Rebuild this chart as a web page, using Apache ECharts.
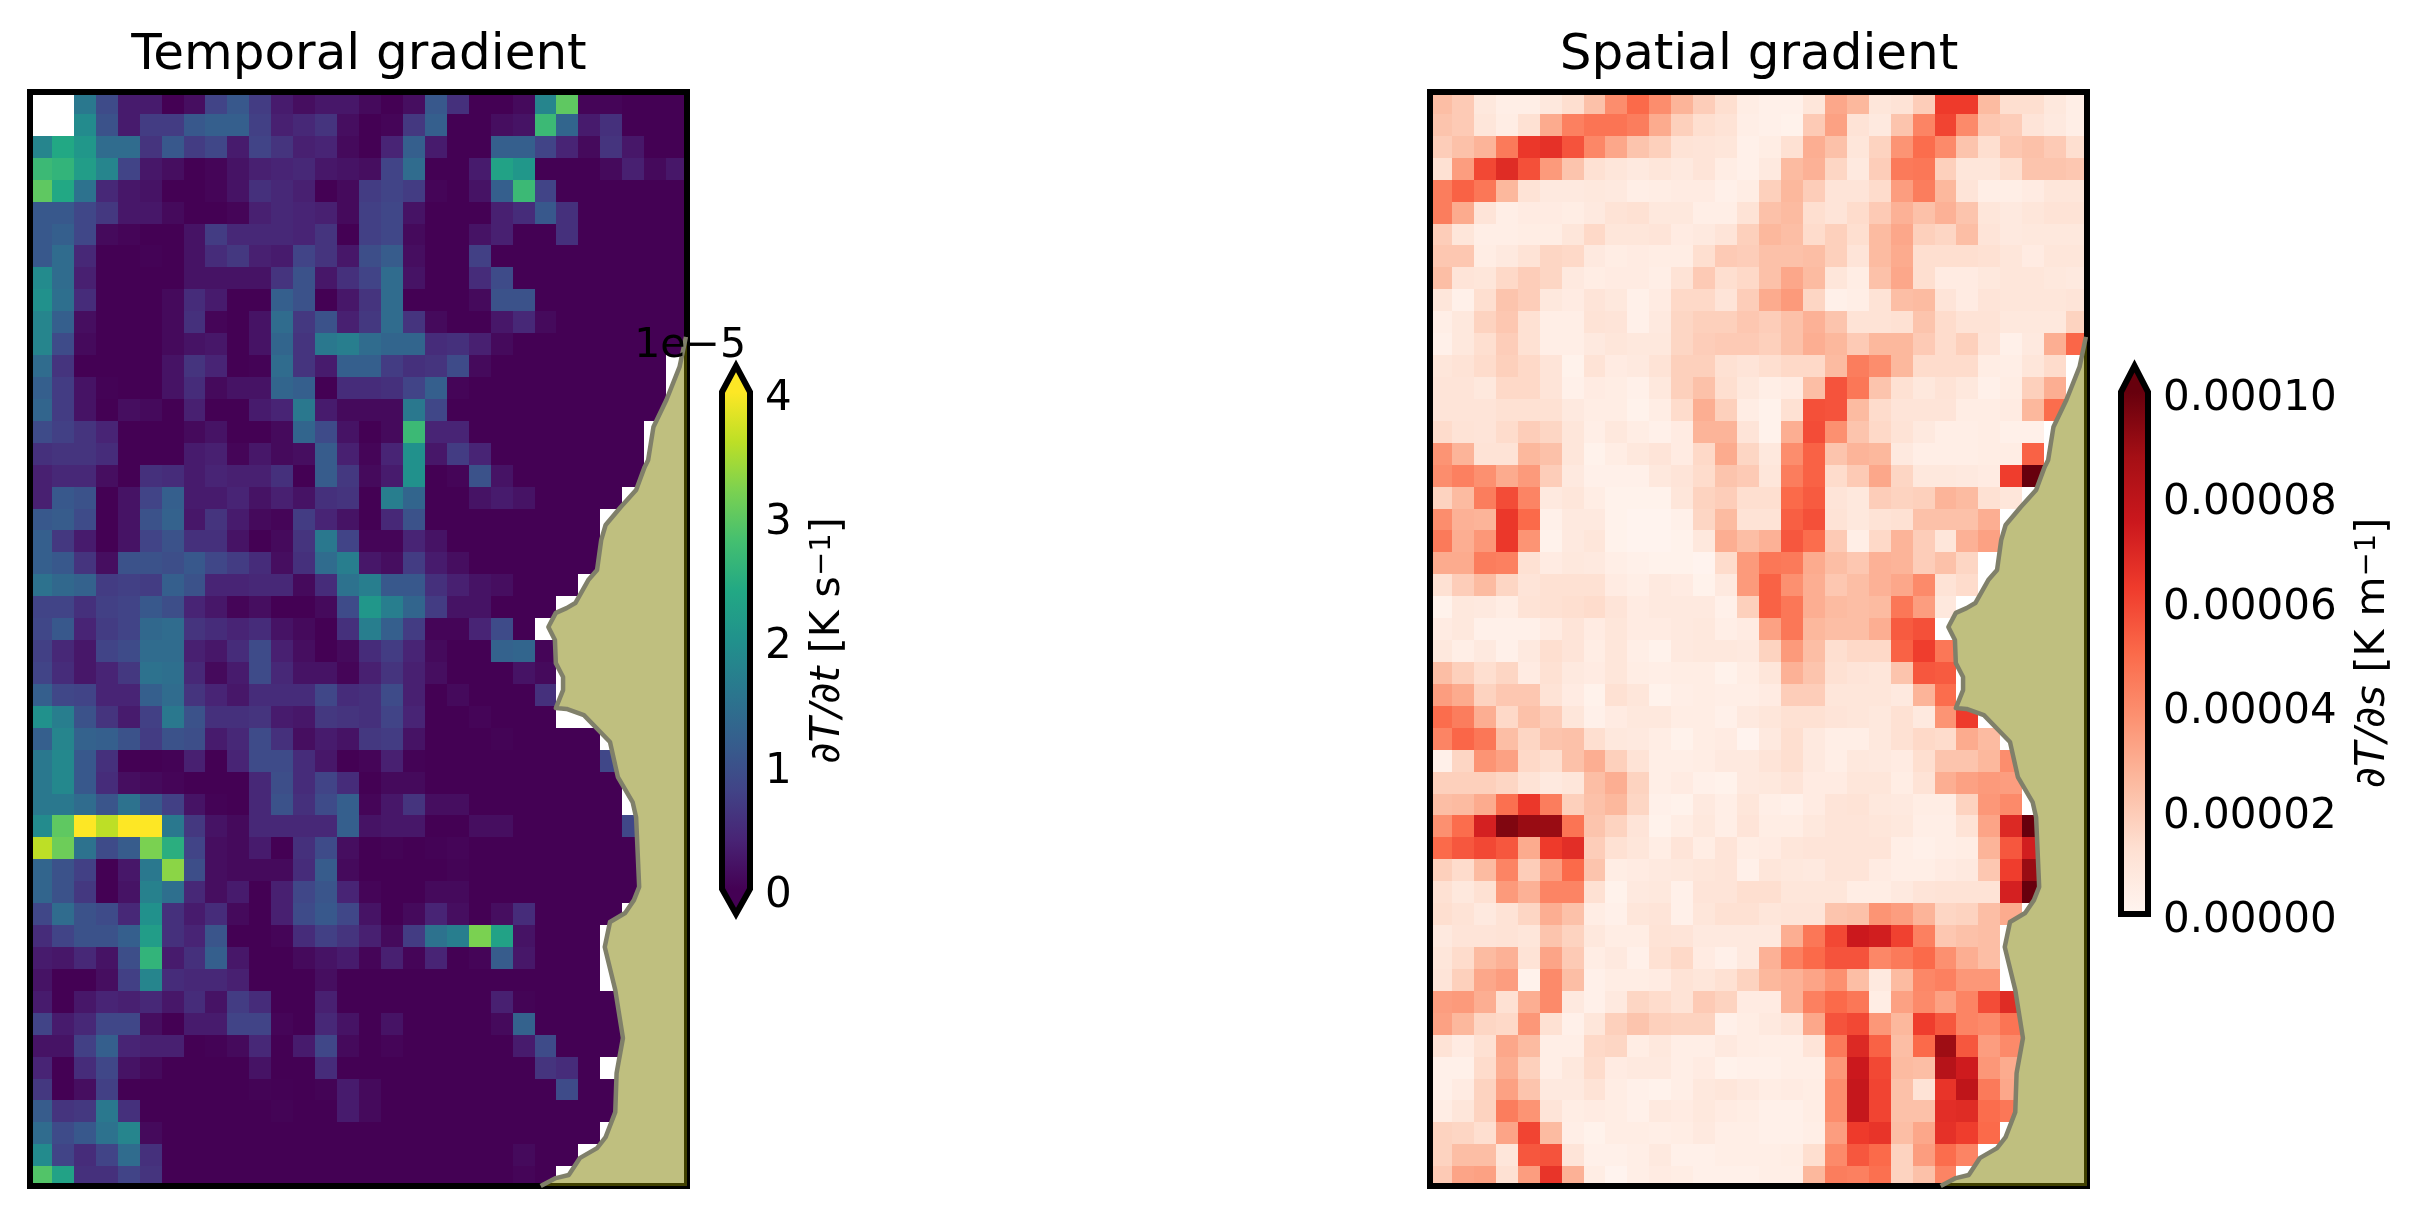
<!DOCTYPE html>
<html>
<head>
<meta charset="utf-8">
<title>Temporal and spatial gradient</title>
<script src="https://cdn.jsdelivr.net/npm/echarts@6/dist/echarts.min.js"></script>
<style>
  html, body { margin: 0; background: #fff; }
  #chart { width: 2427px; height: 1217px; }
</style>
</head>
<body>
<div id="chart"></div>
<script>
const n = null

// dT/dt, units of 1e-5 K/s, rows from the top, columns from the left
const temporalRows = [
  [n,n,1.6,.9,.3,.3,0,.15,.8,1.1,.7,.3,.15,.25,.25,.1,0,.15,1.1,.55,0,0,.1,1.8,3,.05,.05,0,0,0],
  [n,n,1.9,1,.3,.7,.7,1.1,1.2,1.2,.75,.35,.45,.6,.15,0,.05,.65,1.2,0,0,.15,.2,2.7,1.3,.3,.55,0,0,0],
  [1.8,2.4,2.1,1.4,1.4,.6,1.1,.7,.85,.3,.8,.6,.35,.4,.1,0,.4,1.2,.3,0,0,1.2,1.2,.8,.4,.1,.6,.25,0,0],
  [2.7,2.6,2.2,1.8,.8,.25,.15,0,.05,.2,.35,.4,.45,.25,.2,.15,.8,1.4,0,0,.3,2.3,2.1,0,0,0,.1,.35,.1,.25],
  [3,2.4,1.5,.45,.25,.2,0,0,.05,.2,.55,.45,.35,0,.1,.7,.8,.7,.05,0,.2,1.2,2.7,.8,0,0,0,0,0,0],
  [1.1,1.1,.85,.65,.25,.25,.1,0,0,.05,.35,.45,.4,.35,.1,.75,.85,.2,0,0,0,.35,.5,1.1,.55,0,0,0,0,0],
  [1.1,1.2,.85,.1,.05,0,0,.2,.7,.45,.45,.45,.4,.6,0,.75,.85,.1,0,0,.2,.35,0,0,.55,0,0,0,0,0],
  [1.1,1.4,.45,0,0,.02,0,.2,.5,.65,.35,.3,.8,.6,.25,.95,1.15,.15,0,0,.75,0,0,0,0,0,0,0,0,0],
  [1.9,1.4,.35,0,0,0,0,.2,.2,.2,.2,.6,1,.25,.55,.8,1.4,.2,0,0,.5,.9,0,0,0,0,0,0,0,0],
  [2,1.45,.5,0,0,0,.1,.5,.3,0,0,1.2,1,0,.25,.6,1.4,0,0,0,.1,1,1,0,0,0,0,0,0,0],
  [1.8,1.2,.15,0,0,0,.1,.55,.05,0,.2,1.4,.65,1,.35,.65,1.4,.6,.1,0,0,.25,.45,.1,0,0,0,0,0,0],
  [1.8,.9,.1,0,0,0,.1,.2,.25,0,.2,1.3,.6,1.6,1.7,1.4,1.3,1.3,.5,.55,.35,.1,0,0,0,0,0,0,0,0],
  [1.4,.6,0,0,0,0,.2,.6,.4,0,.02,1.4,.6,.3,1.2,1.2,.7,.55,.6,.9,.1,0,0,0,0,0,0,0,0],
  [1.2,.7,.2,.02,0,0,.2,.5,.1,.2,.2,1.3,1.2,0,.5,.5,.55,.8,1.2,.05,0,0,0,0,0,0,0,0,0],
  [1.3,.7,.2,0,.15,.1,0,.35,0,0,.3,.4,1.6,.3,.1,.1,.1,1.6,.85,0,0,0,0,0,0,0,0,0,0],
  [.9,.75,.6,.4,0,0,0,.1,.2,0,0,.1,1.3,.9,.2,0,.1,2.7,.4,.4,0,0,0,0,0,0,0,0],
  [.55,.6,.6,.5,0,0,0,.3,.35,.05,.25,.1,.15,1.15,.35,.05,.4,2,.25,.7,.4,0,0,0,0,0,0,0],
  [.35,.45,.45,.15,0,.55,.5,.3,.4,.35,.35,.55,0,1.15,.65,.1,.3,2,0,.05,1,.2,0,0,0,0,0,0],
  [.35,1.1,1,0,.2,.8,1.2,.3,.3,.4,.2,.35,.2,.55,.6,0,1.7,1.3,0,0,.2,.3,.2,0,0,0,0],
  [1.1,1.15,.9,0,.2,1,1.25,.25,.6,.3,.1,.05,.7,.4,.2,0,.45,1,0,0,0,0,0,0,0,0],
  [1.2,.65,.3,0,.2,.8,1,.55,.55,.2,0,.1,.6,1.6,.8,.05,.05,.4,.2,0,0,0,0,0,0,0],
  [1.2,1.1,.6,.15,1,1,.95,1.1,.85,.7,.5,.15,.55,1.4,1.7,.25,.15,.7,.3,.15,0,0,0,0,0,0],
  [1.5,1.35,1.25,.7,.75,.7,1.2,1,.4,.4,.45,.45,.1,.5,1.5,1.7,1.1,1.1,.55,.35,.2,.15,0,0,0],
  [.8,.8,.55,.75,.8,1.1,.95,.4,.25,.05,.15,0,0,.1,.9,2.1,1.7,1.3,.7,.2,.2,0,0,0],
  [.85,1.1,.4,.7,.8,1.35,1.4,.6,.5,.4,.5,.2,.1,0,.55,1.7,1.2,.7,.05,.05,.4,.9,0],
  [.75,.45,.25,.8,.9,1.4,1.4,.35,.25,.5,.9,.35,.15,0,.1,.5,.7,.4,.1,0,0,1.25,1.3,.05],
  [.8,.5,.25,.4,.65,1.5,1.45,.45,.1,.3,.9,.45,.2,.2,.05,.35,.6,.35,.15,0,0,0,.2,.1],
  [1.2,.85,.8,.4,.4,1.2,1.4,.6,.4,.25,.5,.5,.5,.85,.5,.55,.9,.35,0,.1,0,0,0,.55],
  [2,1.7,1,.6,.3,.75,1.6,1,.55,.55,.6,.3,.25,.65,.6,.55,.8,.4,0,0,.05,0,0,0],
  [1.2,1.8,1.25,1.2,1,.7,1,.95,.3,.45,.9,.55,.15,.3,.2,.65,.7,.2,0,0,0,.03,0,0,0,0],
  [1.6,1.85,1.1,.55,0,0,.02,.35,0,.4,.9,.9,.5,.25,0,.05,.35,.02,0,0,0,0,0,0,0,0,.85],
  [1.6,1.85,1.1,.5,.15,.1,.05,0,0,0,.45,.95,.5,.8,.5,0,.1,.1,0,0,0,0,0,0,0,0,0],
  [1.6,1.6,1.4,1.05,1.5,1.1,.75,.2,.02,0,.45,1,.55,.9,1.2,.05,.25,.6,.15,.15,0,0,0,0,0,0,0],
  [1.9,3,4,3.6,4,4,1.6,.65,.2,.1,.45,.45,.45,.45,1.2,.2,.25,.25,0,0,.15,.15,0,0,0,0,0,.85],
  [3.6,3.1,1.5,.9,1.15,3.2,2.5,.8,.15,.1,.3,0,.55,.9,.15,0,.03,0,.02,.05,0,0,0,0,0,0,0,0],
  [1.3,1,.75,0,.25,1.6,3.3,.95,.15,.1,.1,.1,.5,1.15,.1,0,0,0,0,.03,0,0,0,0,0,0,0,0],
  [1.3,1,.65,0,.2,1.75,1.45,.45,.15,.3,0,.35,.85,1.05,.4,.05,0,0,.1,.1,0,0,0,0,0,0,0,0],
  [.85,1.4,1,.9,.45,2,.55,.3,.5,.1,0,.35,.9,1.1,.85,.2,0,.1,.4,.15,0,.15,.5,0,0,0,0],
  [.5,.8,1,1,1.2,2.2,.55,.4,1.05,0,0,.05,.5,.75,.6,.35,.1,.7,1.5,1.7,3.2,2.3,.2,0,0,0],
  [.3,.25,.45,.2,.95,2.6,.3,.55,1.2,.25,0,0,.1,.2,.3,.05,.35,.05,.4,0,.05,1.15,.25,0,0,0],
  [.2,0,0,.15,.75,1.8,.5,.45,.45,.35,0,0,0,.15,0,0,0,0,0,0,0,0,0,0,0,0],
  [.3,0,.25,.4,.35,.45,.25,.5,.2,.7,.5,0,0,.35,0,0,0,0,0,0,0,.35,.03,0,0,0,0,0],
  [.8,.3,.45,.85,.85,.15,0,.3,.3,.8,.8,.05,0,.45,.2,0,.2,0,0,0,0,.1,1.25,0,0,0,0,0],
  [.2,.2,.75,1.2,.4,.35,.35,0,.02,.1,.45,0,.3,.85,.1,0,.05,0,0,0,0,0,.3,.9,0,0,0,0],
  [.4,0,.5,.85,.2,.1,0,0,0,0,.2,0,0,.5,0,0,0,0,0,0,0,0,0,.6,.5,0],
  [.65,0,.15,.75,0,0,0,0,0,0,.03,.01,0,.03,.3,.1,0,0,0,0,0,0,0,0,.9,0,0],
  [1.15,.6,.65,1.6,.55,0,0,0,0,0,0,.03,0,0,.3,.1,0,0,0,0,0,0,0,0,0,0,0],
  [1.4,.9,1.1,1.5,1.8,.1,0,0,0,0,0,0,0,0,0,0,0,0,0,0,0,0,0,0,0,0],
  [1.9,.8,.5,.8,1.4,.55,0,0,0,0,0,0,0,0,0,0,0,0,0,0,0,0,.1,0,0],
  [2.9,2.3,.55,.55,.8,.6,0,0,0,0,0,0,0,0,0,0,0,0,0,0,0,0,.05,0],
]

// dT/ds, units of 1e-5 K/m
const spatialRows = [
  [2.4,2,.8,.4,.4,.8,1.3,2.3,3.9,5,3.9,2.7,1.9,1.3,.5,.3,.3,.9,3.1,2.6,.9,1.1,1.9,6.3,6.3,2.5,1.3,1.3,.8,.4],
  [2.2,2,.9,.5,1.2,3,4.3,4.7,4.7,4.4,3,1.8,1.3,1.1,.4,.3,.2,2,3.3,1.1,.7,2.2,4.2,6,4,2.1,1.9,1,.7,.4],
  [1.9,2.3,2.7,4.5,6.4,6.6,5.6,4.1,3.1,2.2,1.8,1.1,1,.9,.3,.5,1.2,2.9,2.3,.9,1.7,3.7,4.9,4,2.2,1.3,2.1,2.3,2,1.3],
  [1.2,3.4,5.9,6.8,5.7,3.5,2.2,1.2,.9,.7,.9,.7,1,.5,.3,.7,2.5,2.8,1.6,.7,1.9,4.5,4.6,1.8,.9,.9,1.3,2.2,2.2,2.1],
  [4.4,5.2,4.6,2.6,1.1,.7,.7,.8,.7,.4,.5,.6,.6,.3,.5,1.8,2.6,1.9,1,1,1.4,3.4,4.4,2.6,1,.4,.4,.6,.9,.9],
  [4.4,3,1,.4,.6,.6,.5,.7,1.1,1.2,.8,.8,.4,.4,1.1,2.3,2.5,1.3,1,1.4,2,2.8,2.3,2.8,2.2,.9,.7,.9,1.1,1.1],
  [1.9,.9,.4,.4,.5,.5,.9,1.5,.9,.9,1,.6,.7,1,1.8,2.6,2.4,1.4,1.8,1.3,2.5,3.1,1.8,1.6,2.4,1,.7,.8,.8,.8],
  [2.1,2.1,.5,.7,1.1,1.6,1.5,.7,.5,.6,.5,.5,1.3,2,1.9,2.3,2.3,2.4,1.8,1,2.5,3,1.3,1.3,1.3,1.2,.9,.6,.9,.9],
  [2.4,1,.9,1.5,1.9,1.6,.7,.5,.6,.6,.4,1.1,2,1.3,1.5,2.3,3.1,2.5,.9,.5,2.3,3.1,1.3,.6,.6,.8,.9,.9,.8,.7],
  [.9,.3,1.3,2.2,1.9,.8,.6,1,.8,.3,.6,1.5,1.5,1,1.9,3,3.5,1.6,.3,.4,1.1,2.4,2.5,1,.6,1,.9,.9,.9,1],
  [.4,.8,1.7,2.1,1.2,.4,.4,1.1,1,.3,.7,1.6,1.8,1.8,2.1,1.9,2.3,2.8,2.2,1.1,1.1,1.2,2.2,1.4,1.1,1.1,.8,.8,.8,1.7],
  [.3,.8,1.3,1.9,1.2,.4,.4,.7,.9,.8,.8,1.6,1.9,2,2,1.8,2.3,2.9,2.6,2,2.6,2.6,2,1.4,1.8,1,.3,.7,2.9,5.1],
  [.9,1.1,1.4,1.8,1.5,1,.2,1.1,.6,.7,1.1,1.8,1.8,1.2,1,1.3,1.5,1.5,2.5,4.4,3.9,2.6,1.4,1.4,1.4,.5,.4,.9,1.4],
  [1,1,.8,1.5,1.5,1,.3,.6,.5,.3,.8,1.8,2.3,1.3,.8,.4,.6,2.4,5.6,4.6,2.2,1.2,.8,1.1,.8,.3,.5,1.8,2.9],
  [1,1,1,1.2,1.2,1.2,.7,.5,.5,.2,.5,1.4,2.9,1.8,.5,.2,1.2,5.7,5.6,2.5,1.4,1,1,1,.5,.5,.6,2.6,4.9],
  [1.4,1.1,1,1.4,1.9,1.6,.9,.4,.8,.5,.3,.6,2.7,2.7,1,.2,2.9,5.8,3.8,2.2,1.5,1.1,.7,.4,.4,.5,.3,.3],
  [3.7,2.7,1.1,1.1,2.6,2.3,.9,.2,.5,.8,1,.6,1.5,3,1.6,.8,3.9,5.2,2.2,2.7,2.6,.7,.4,.4,.4,.5,.5,5.2],
  [3.9,4.3,3.8,3,3.5,1.9,.7,.3,.3,.3,.8,1,1.4,2.2,2,.9,4.4,5.2,1.4,2,3.1,1.6,.8,.8,.7,.6,6.2,10],
  [1.7,2.5,4.4,5.8,4.2,.7,.9,.5,.2,.2,.2,.9,1.7,1.9,1.3,1.3,5,5.4,1,.8,1.9,1.7,1.8,2.7,2.5,1.2,.9],
  [3.9,2.8,2.7,6.4,5,.3,.7,.7,.2,.1,.1,.3,1.6,2.5,1.1,1.1,5.3,5.7,1.1,.8,1.1,1.2,2.3,2.3,2.3,2.9],
  [4.5,2.9,3.6,6.4,3.7,.2,.7,.9,.2,.1,.1,.2,.8,2.9,2.4,2.8,5.5,4.9,2,.4,1.5,2.7,1.9,.9,2.8,3.3],
  [3,3,4.4,4.3,1.2,.6,.8,.7,.4,.3,.2,.2,.1,1.4,3.5,4.6,4.5,3,2.4,2.1,2.8,2.7,1.9,2.3,1.6],
  [1.2,1.9,2.5,1.6,1,1.2,1.2,1.2,.6,.4,.7,.6,.2,.7,3.5,5.2,3.8,2.9,2.1,2.4,2.8,3.1,4,1.1,1.4],
  [.2,.8,.7,.5,1.1,1.2,1.3,1.4,1,.6,.7,.7,.7,.3,1.8,5.2,4.6,2.9,2.5,2.4,2.5,4.6,3.4,.8],
  [.6,.8,.3,.3,.3,.6,1,.6,.9,.6,.6,.7,.8,.4,.6,3.3,4.6,2.6,2.4,2.4,2.9,5.4,5.7],
  [.8,.4,.7,.3,.7,1.3,1,.5,.9,.4,.2,.7,.8,.8,.7,1.7,3.5,2.4,1.3,1.5,1.5,5.2,6.2,4.6],
  [2.4,1.8,1.3,1.6,.6,1.2,.7,.6,.9,.5,.4,.5,.5,.2,.5,.9,2.8,2.2,1.2,1,.9,2.2,5.5,5.4],
  [3.4,3,1.7,2.1,2.1,1.1,.6,.2,1.2,.9,.2,.4,.5,.4,.4,.6,1.9,1.9,.9,.9,.9,.7,2.7,4.9],
  [4.9,4.4,2.9,1.5,2.3,1.9,.9,.3,.6,.8,.8,.5,.5,.3,.7,.9,1.2,1.2,1,.9,.8,1.2,.7,3.7,6.3],
  [4.2,5.1,4.6,2.4,1.6,2.2,2.3,1.3,.8,.7,.5,.2,.5,.6,.1,.7,1.3,.7,.4,.4,.8,1.2,1.5,1.4,3,2.5],
  [.3,1.6,3.7,3.3,1.5,1.3,2.3,2.9,1.8,1.1,.4,.4,.5,.7,.7,1,1.3,.7,.4,.8,.7,.6,1.3,2.2,2.2,2.6,3.9],
  [1.8,1.8,1.8,1.6,1.1,.7,.9,2.4,2.9,1.7,.4,.6,.3,.2,.7,.8,1,.6,.6,.9,.9,.5,1.1,2.9,3.3,3.5,3.4],
  [2.4,2.5,3,4.8,6.4,4.4,1.8,2.3,2.6,1.6,.3,.2,.7,.4,.9,.4,.3,.6,1,1.1,.8,.7,.5,.5,1.7,3.6,4],
  [3.8,4.9,7.2,9.5,9,9,4.7,2.2,1.7,1,.2,.5,.8,.4,1,.5,.5,.8,1,1,.9,.8,.4,.4,1.1,3.2,6.9,10],
  [5,5.5,5.9,5.5,3,6.3,6.7,1.9,1.2,.9,.5,1,.5,1,.5,.6,.9,1,1,1,1,.4,.3,.4,.5,2.7,5.5,7.3],
  [1.8,1.4,2.5,4.2,1.9,3.4,5,2.2,.5,.6,.7,.8,.9,1,.3,.9,.8,.7,1,1,.6,.4,.4,.6,.7,2.1,6.2,9],
  [1.2,.8,1.2,3.5,2.8,4.2,4.2,1.2,.2,.7,.8,.3,1,1,1.3,1.3,.9,.9,.9,.5,.5,.7,1,1.1,1.1,1.1,7.2,10],
  [1.3,1.1,.7,1.1,1.6,2.9,2.3,.5,.3,.9,1,.3,.9,1.2,1.2,.9,1,1,2.2,2.3,3.7,3.4,2.7,1.6,1.7,2.4,3],
  [.7,1,1,1.1,.9,2.2,1.7,.8,.5,.5,1.1,1,.7,.7,.7,.7,2.9,4.6,5.9,7.5,7.3,6.1,4.3,2.1,2.3,2.4],
  [.9,1.4,2.5,2.8,1.1,3.2,2,.5,.7,.3,1.2,1.5,.6,.3,.7,2.8,4.3,5,5.6,5.6,4.1,4.5,5,3.8,2.9,2.4],
  [1,1.8,3.1,3.4,.2,4,2.4,.3,.5,.5,.6,1.1,.9,1.2,1.7,2.6,2.8,3.2,3.8,2.4,.7,2.5,4.1,4.3,3.6,3.6],
  [3.4,3.5,2.9,1.2,2.9,4,.7,.3,.7,1.6,1.4,1.1,2,1.7,.6,.6,2.8,4.3,5,4.6,.5,3.3,4,3.3,4.2,5.8,6.8],
  [3.3,2.6,1.6,1.5,3.6,1.2,.3,.9,1.8,2.2,1.8,1.7,1.7,.3,.5,.7,1,3.1,5.6,5.9,3.6,2.6,6.2,5.5,4.2,4,4.7],
  [1.1,.6,1.2,3.1,2.5,.4,.4,1.5,1.6,.5,.8,.4,.4,.7,.5,.4,.4,1,4.5,6.9,5.2,2.4,5,8.9,5.5,3.4,4],
  [.3,.3,1.4,2.9,1.8,.4,.8,1.4,.6,.7,.7,.4,.6,.2,.3,.3,.4,.4,3.6,7.5,5.9,2.5,2.4,8.2,7.4,3.6,3],
  [.3,.6,1.7,3.3,2.2,.7,.7,1.1,.5,.3,.2,.4,.8,.9,.7,.5,.6,.5,3.9,7.7,6,2.3,1.1,6.5,7.9,4.5,3.1],
  [.5,.9,1.7,4.4,3.7,1,.5,.6,.5,.3,.7,.6,.8,.6,.5,.3,.3,.5,3.9,7.7,6,2.3,2.3,6.7,6.8,4.9,4.6],
  [1.7,1.6,1.3,3.2,6,2.5,.4,.2,.5,.5,.4,.5,.7,.4,.4,.3,.3,.4,3.4,6.3,6.5,2.4,3.1,6.6,6.2,5],
  [1.7,2.4,2.4,.9,5.5,5.6,1,.3,.3,.4,.7,.3,.3,.4,.4,.4,.5,1.3,4,5.5,5,1.7,3.4,4.9,4.2],
  [2,3.2,3.3,1.2,3.4,6.5,2.8,.5,.1,.4,.6,.5,.3,.3,.3,.4,.4,2.6,4.4,4.3,4.8,1.7,2.3,4.2],
]

// coastline in column / row units, closed along the right and bottom of the map
const coastCols = [29.4,29.11,28.51,27.92,27.68,27.52,27.13,26.43,25.74,25.54,25.35,24.95,24.36,23.96,23.47,23.13,23.43,23.47,23.8,23.8,23.47,23.96,24.75,25.94,26.3,26.97,27.13,27.27,27.03,26.63,25.94,25.7,26.18,26.53,26.24,26.18,25.74,25.35,24.56,24.06,23.47,22.78,29.45,29.45]
const coastRows = [10.67,12.04,13.55,14.78,16.28,16.6,17.65,18.43,19.25,19.93,21.3,21.76,22.81,23.04,23.26,23.9,24.5,25.55,26.18,26.78,27.6,27.64,27.92,29.15,30.75,31.89,32.58,35.76,36.36,36.95,37.36,38.5,40.46,42.65,44.25,46.03,47.17,47.67,48.13,48.9,49.04,49.4,49.4,10.67]

const temporalTicks = ['0', '1', '2', '3', '4']
const spatialTicks = ['0.00000', '0.00002', '0.00004', '0.00006', '0.00008', '0.00010']

const viridis = ['#440154','#482475','#414487','#355f8d','#2a788e','#21918c','#22a884','#44bf70','#7ad151','#bddf26','#fde725']
const reds = ['#fff5f0','#fee0d2','#fcbba1','#fc9272','#fb6a4a','#ef3b2c','#cb181d','#a50f15','#67000d']

const FONT = 'DejaVu Sans'
const X_RANGE = [-0.5, 29.45]
const Y_RANGE = [-0.5, 49.4]

function toCells(rows) {
  const cells = []
  rows.forEach((row, r) => {
    row.forEach((v, c) => {
      if (v !== null) cells.push([c, r, v])
    })
  })
  return cells
}

function renderCell(params, api) {
  const c = api.value(0)
  const r = api.value(1)
  const a = api.coord([c - 0.5, r - 0.5])
  const b = api.coord([c + 0.5, r + 0.5])
  const x = Math.round(a[0])
  const y = Math.round(a[1])
  return {
    type: 'rect',
    shape: { x, y, width: Math.round(b[0]) - x, height: Math.round(b[1]) - y },
    style: { fill: api.visual('color') },
  }
}

// white land mask over the cells, then the frame, then the half transparent land which tints the frame
function renderOverlay(params, api) {
  const tl = api.coord([X_RANGE[0], Y_RANGE[0]])
  const br = api.coord([X_RANGE[1], Y_RANGE[1]])
  const points = coastCols.map((c, i) => api.coord([c, coastRows[i]]))
  return {
    type: 'group',
    children: [
      {
        type: 'polygon',
        shape: { points },
        style: { fill: '#fff' },
      },
      {
        type: 'rect',
        shape: { x: tl[0], y: tl[1], width: br[0] - tl[0], height: br[1] - tl[1] },
        style: { fill: 'none', stroke: '#000', lineWidth: 6 },
      },
      {
        type: 'polygon',
        shape: { points },
        style: { fill: '#808000', opacity: 0.5 },
      },
      {
        type: 'polyline',
        shape: { points: points.slice(0, -2) },
        style: { fill: 'none', stroke: '#80806a', lineWidth: 4.5, lineJoin: 'round' },
      },
    ],
  }
}

function colorbarRenderer(colors, vMax, capTop, capBottom) {
  return function (params, api) {
    const p = (x, v) => api.coord([x, v])
    const stops = colors.map((color, i) => ({ offset: i / (colors.length - 1), color }))
    const bl = p(0, 0)
    const tr = p(1, vMax)
    const children = [
      {
        type: 'rect',
        shape: { x: bl[0], y: tr[1], width: tr[0] - bl[0], height: bl[1] - tr[1] },
        style: { fill: new echarts.graphic.LinearGradient(0, 1, 0, 0, stops) },
      },
      {
        type: 'polygon',
        shape: { points: [p(0, vMax), p(0.5, capTop), p(1, vMax)] },
        style: { fill: colors[colors.length - 1] },
      },
    ]
    const outline = [p(0, vMax), p(0.5, capTop), p(1, vMax), p(1, 0)]
    if (capBottom !== null) {
      children.push({
        type: 'polygon',
        shape: { points: [p(0, 0), p(0.5, capBottom), p(1, 0)] },
        style: { fill: colors[0] },
      })
      outline.push(p(0.5, capBottom))
    }
    outline.push(p(0, 0))
    children.push({
      type: 'polygon',
      shape: { points: outline },
      style: { fill: 'none', stroke: '#000', lineWidth: 6, lineJoin: 'miter', miterLimit: 10 },
    })
    return { type: 'group', children }
  }
}

const hiddenAxis = (extra) => ({ type: 'value', show: false, ...extra })

const barAxis = (gridIndex, max, interval, ticks, name, nameGap) => ({
  type: 'value',
  gridIndex,
  position: 'right',
  min: 0,
  max,
  interval,
  splitLine: { show: false },
  axisLine: { show: false },
  axisTick: { show: false },
  axisLabel: {
    color: '#000',
    fontFamily: FONT,
    fontSize: 42,
    margin: 15,
    verticalAlign: 'top',
    lineHeight: 14,
    formatter: (v) => ticks[Math.round(v / interval)],
  },
  name,
  nameLocation: 'middle',
  nameRotate: 90,
  nameGap,
  nameTextStyle: {
    color: '#000',
    fontFamily: FONT,
    fontSize: 41,
    rich: {
      i: { fontFamily: FONT, fontSize: 41, fontStyle: 'italic', color: '#000' },
      s: { fontFamily: FONT, fontSize: 29, color: '#000', verticalAlign: 'top' },
    },
  },
})

const chart = echarts.init(document.getElementById('chart'))

chart.setOption({
  animation: false,
  backgroundColor: '#fff',
  textStyle: { fontFamily: FONT },
  title: [
    { text: 'Temporal gradient', left: 354, top: 26, textAlign: 'center', textStyle: { fontFamily: FONT, fontSize: 50, fontWeight: 'normal', color: '#000' } },
    { text: 'Spatial gradient', left: 1754, top: 26, textAlign: 'center', textStyle: { fontFamily: FONT, fontSize: 50, fontWeight: 'normal', color: '#000' } },
  ],
  grid: [
    { left: 30, top: 92, width: 657, height: 1094 },
    { left: 1430, top: 92, width: 657, height: 1094 },
    { left: 722, top: 392, width: 28, height: 497 },
    { left: 2121, top: 392, width: 27, height: 522 },
  ],
  xAxis: [
    hiddenAxis({ gridIndex: 0, min: X_RANGE[0], max: X_RANGE[1] }),
    hiddenAxis({ gridIndex: 1, min: X_RANGE[0], max: X_RANGE[1] }),
    hiddenAxis({ gridIndex: 2, min: 0, max: 1 }),
    hiddenAxis({ gridIndex: 3, min: 0, max: 1 }),
  ],
  yAxis: [
    hiddenAxis({ gridIndex: 0, min: Y_RANGE[0], max: Y_RANGE[1], inverse: true }),
    hiddenAxis({ gridIndex: 1, min: Y_RANGE[0], max: Y_RANGE[1], inverse: true }),
    barAxis(2, 4, 1, temporalTicks, '{i|∂T/∂t} [K s{s|−1}]', 58),
    barAxis(3, 10, 2, spatialTicks, '{i|∂T/∂s} [K m{s|−1}]', 205),
  ],
  visualMap: [
    { type: 'continuous', show: false, seriesIndex: 0, dimension: 2, min: 0, max: 4, inRange: { color: viridis } },
    { type: 'continuous', show: false, seriesIndex: 1, dimension: 2, min: 0, max: 10, inRange: { color: reds } },
  ],
  series: [
    { type: 'custom', name: 'Temporal gradient', xAxisIndex: 0, yAxisIndex: 0, clip: true, renderItem: renderCell, data: toCells(temporalRows), encode: { x: 0, y: 1 } },
    { type: 'custom', name: 'Spatial gradient', xAxisIndex: 1, yAxisIndex: 1, clip: true, renderItem: renderCell, data: toCells(spatialRows), encode: { x: 0, y: 1 } },
    { type: 'custom', xAxisIndex: 0, yAxisIndex: 0, z: 3, renderItem: renderOverlay, data: [[0, 0]], silent: true },
    { type: 'custom', xAxisIndex: 1, yAxisIndex: 1, z: 3, renderItem: renderOverlay, data: [[0, 0]], silent: true },
    { type: 'custom', xAxisIndex: 2, yAxisIndex: 2, z: 3, renderItem: colorbarRenderer(viridis, 4, 4.21, -0.2), data: [[0, 0]], silent: true },
    { type: 'custom', xAxisIndex: 3, yAxisIndex: 3, z: 3, renderItem: colorbarRenderer(reds, 10, 10.5, null), data: [[0, 0]], silent: true },
  ],
  graphic: [
    { type: 'text', z: 20, x: 746, y: 346, style: { text: '1e−5', fontFamily: FONT, fontSize: 41, fill: '#000', textAlign: 'right', textVerticalAlign: 'middle' } },
  ],
})

window.addEventListener('resize', () => chart.resize())
</script>
</body>
</html>
